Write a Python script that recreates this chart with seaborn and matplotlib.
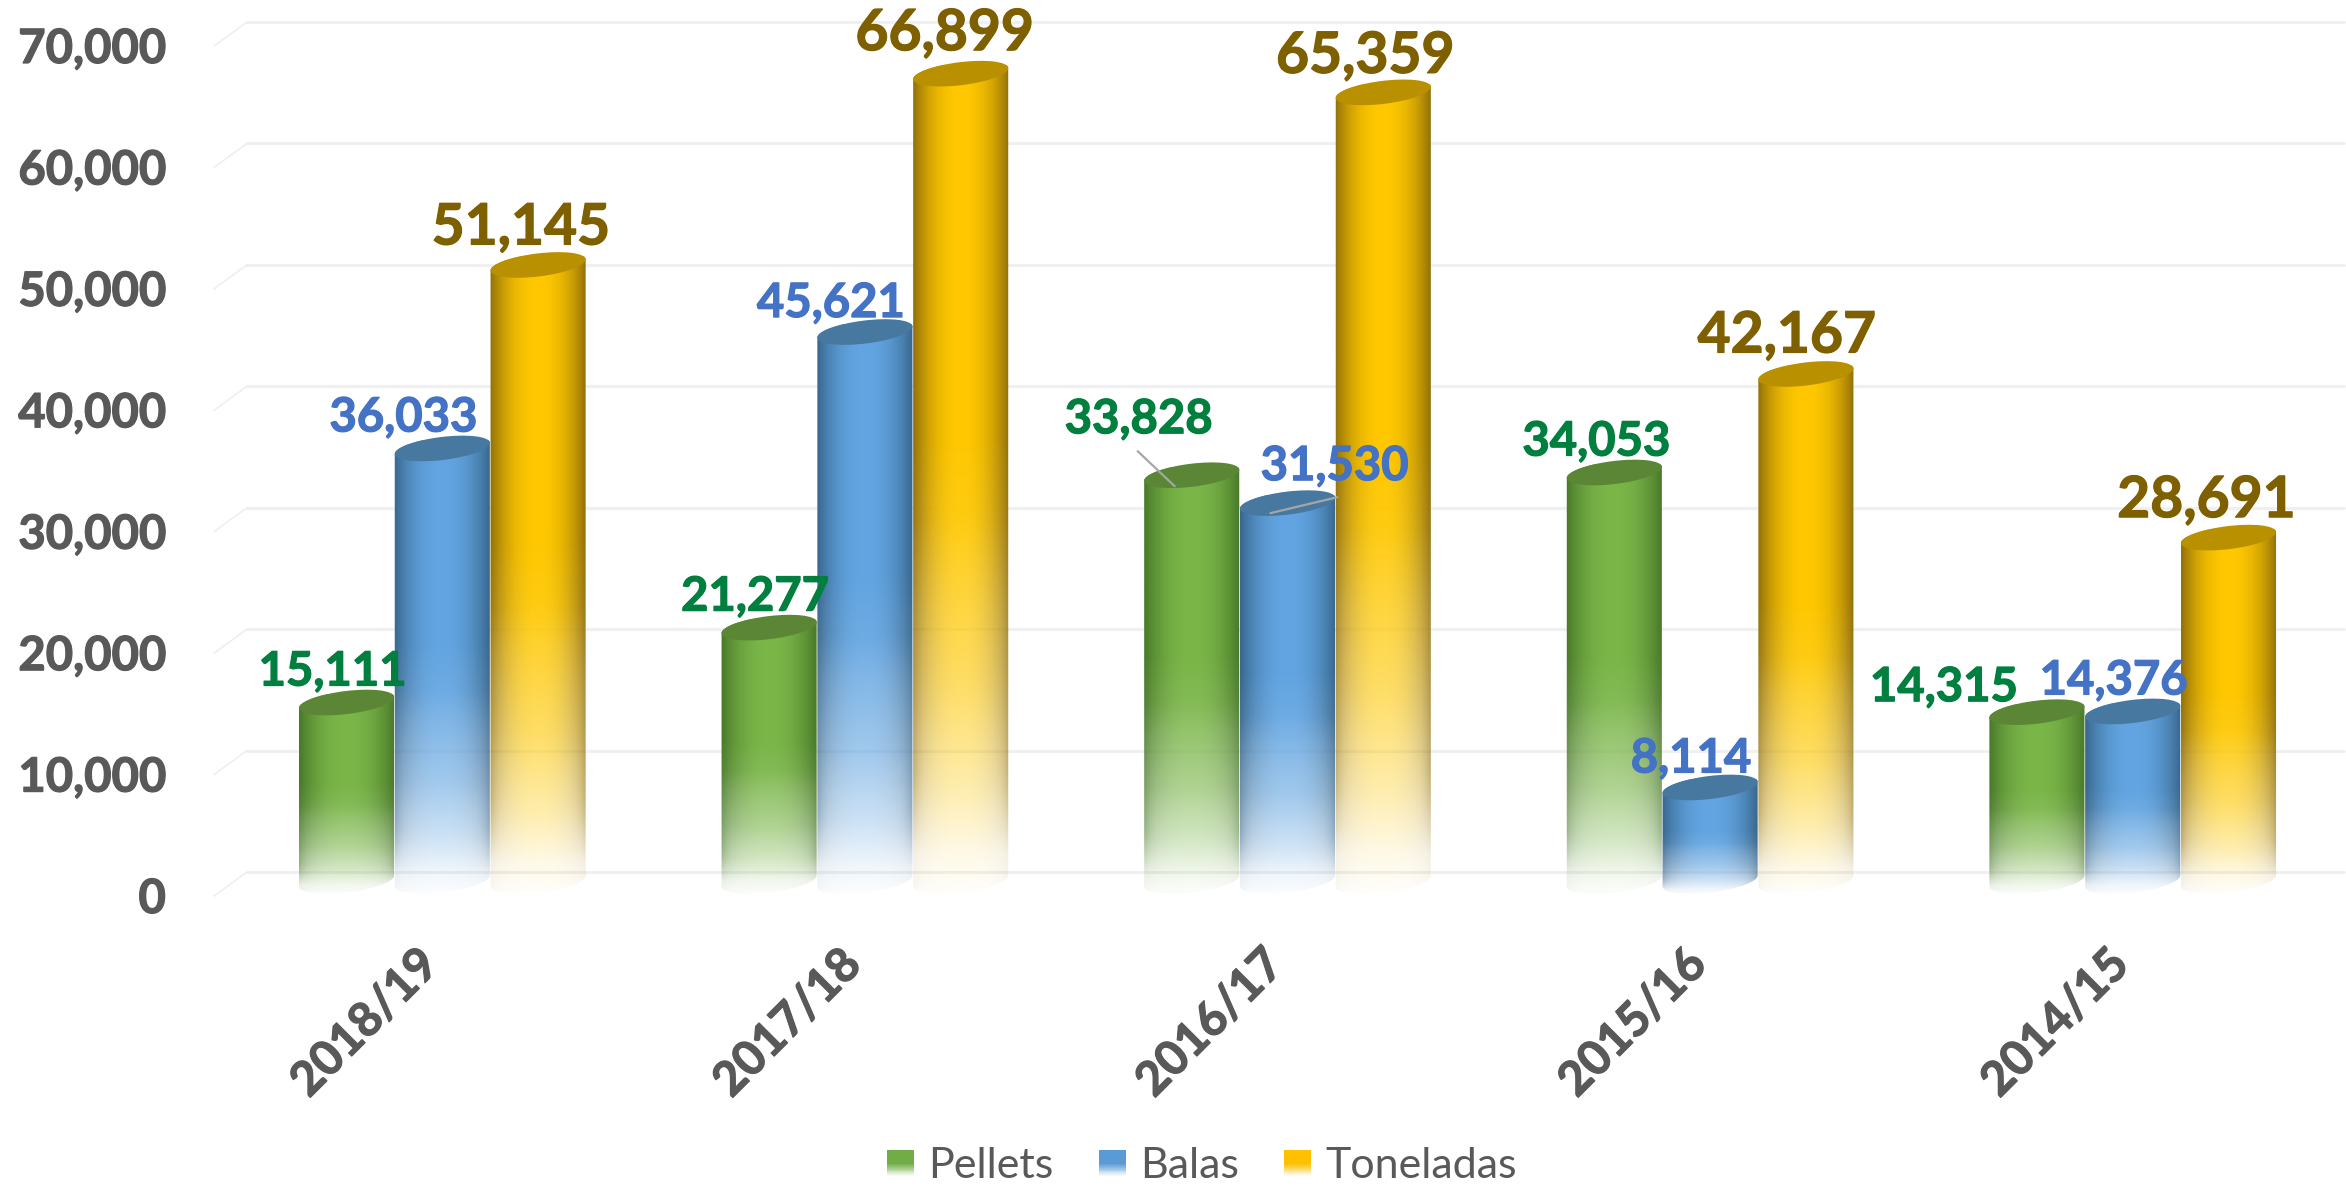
import numpy as np
import pandas as pd
import seaborn as sns
import matplotlib.pyplot as plt
import matplotlib.patheffects as pe
from matplotlib.colors import to_rgb
from matplotlib.legend_handler import HandlerBase
from matplotlib.patches import Ellipse, Rectangle
from matplotlib.path import Path
from matplotlib.transforms import IdentityTransform, ScaledTranslation, blended_transform_factory

# Data
categories = ["2018/19", "2017/18", "2016/17", "2015/16", "2014/15"]
pellets = [15111, 21277, 33828, 34053, 14315]
balas = [36033, 45621, 31530, 8114, 14376]
toneladas = [51145, 66899, 65359, 42167, 28691]
y_ticks = [0, 10000, 20000, 30000, 40000, 50000, 60000, 70000]
series_names = ["Pellets", "Balas", "Toneladas"]

# Colours: (centre of cylinder, edge of cylinder, top cap, label)
styles = {
    "Pellets": ("#7ab648", "#4a7a2a", "#5a8636", "#007f3f"),
    "Balas": ("#62a5e2", "#39688f", "#47789f", "#4472c4"),
    "Toneladas": ("#ffc800", "#94720a", "#b89000", "#7f6000"),
}

# Label offsets from the top of each bar, in pixels of the full picture (x, y up)
label_offsets = {
    "Pellets": [(-14, 31), (-14, 31), (-53, 56), (-18, 31), (-93, 25)],
    "Balas": [(-39, 31), (-34, 29), (47, 37), (-19, 29), (-19, 31)],
    "Toneladas": [(-17, 37), (-16, 40), (-18, 36), (-19, 38), (-22, 37)],
}
label_sizes = {"Pellets": 34, "Balas": 34, "Toneladas": 41}

# Leader lines: series, group, start and end relative to the bar top (pixels)
leaders = [
    ("Pellets", 2, (-54, 24), (-17, -11)),
    ("Balas", 2, (50, 6), (-17, -10)),
]

FIG_W, FIG_H = 2346, 1187
DPI = 100
AX_LEFT, AX_RIGHT = 231, 2344
AX_BASE, AX_TOP = 886, 36

sns.set_style("white")
plt.rcParams["font.family"] = ["Lato", "DejaVu Sans"]

df = pd.DataFrame({
    "year": categories * 3,
    "serie": sum([[n] * len(categories) for n in series_names], []),
    "value": pellets + balas + toneladas,
})

fig = plt.figure(figsize=(FIG_W / DPI, FIG_H / DPI), dpi=DPI)
ax = fig.add_axes([AX_LEFT / FIG_W, 1 - AX_BASE / FIG_H,
                   (AX_RIGHT - AX_LEFT) / FIG_W, (AX_BASE - AX_TOP) / FIG_H])
sns.barplot(data=df, x="year", y="value", hue="serie", order=categories,
            hue_order=series_names, width=0.68, gap=0, ax=ax, legend=False)
ax.set_xlim(-0.5, 4.5)
ax.set_ylim(0, 70000)
ax.set_xlabel("")
ax.set_ylabel("")
sns.despine(ax=ax, left=True, bottom=True)

px = 70000 / (AX_BASE - AX_TOP)  # value of one pixel


def heavier(col, lw=0.9):
    # the reference text is bolder than Lato Bold
    return [pe.withStroke(linewidth=lw, foreground=col)]


# Gridlines sit on the back wall, with a short slanted piece on the left
wall = blended_transform_factory(ax.transAxes, ax.transData)
wall_x = (247 - AX_LEFT) / (AX_RIGHT - AX_LEFT)
stub_x = (214 - AX_LEFT) / (AX_RIGHT - AX_LEFT)
for t in y_ticks:
    ax.plot([wall_x, 1.0], [t + 14 * px] * 2, color="#f0f0f0", lw=2.2,
            transform=wall, clip_on=False, zorder=1)
    ax.plot([stub_x, wall_x], [t - 10 * px, t + 14 * px], color="#efefef", lw=1.2,
            transform=wall, clip_on=False, zorder=1)

# Axis labels
ax.set_yticks(y_ticks)
ax.set_yticklabels([f"{t:,}" for t in y_ticks], fontsize=34, fontweight="bold", color="#595959",
                   path_effects=heavier("#595959"))
ax.tick_params(axis="y", length=0, pad=47)
ax.tick_params(axis="x", length=0, pad=40)
ax.set_xticks(range(len(categories)))
ax.set_xticklabels(categories, fontsize=34, fontweight="bold", color="#595959",
                   rotation=45, ha="right", va="top", rotation_mode="anchor",
                   path_effects=heavier("#595959"))
y_shift = ScaledTranslation(0, -9 / DPI, fig.dpi_scale_trans)
for lab in ax.get_yticklabels():
    lab.set_transform(lab.get_transform() + y_shift)
x_shift = ScaledTranslation(-27 / DPI, 0, fig.dpi_scale_trans)
for lab in ax.get_xticklabels():
    lab.set_transform(lab.get_transform() + x_shift)


def fade_alpha(t):
    # opacity from the top of the bar (0) to its base (1)
    return np.interp(t, [0, 0.45, 0.55, 0.62, 0.75, 0.87, 0.95, 1.0],
                     [1, 1, 0.93, 0.8, 0.6, 0.33, 0.1, 0.02])


def cylinder_image(centre, edge):
    u = np.abs(np.linspace(-1, 1, 64)) ** 2.2
    t = np.linspace(0, 1, 300)
    img = np.zeros((300, 64, 4))
    for c in range(3):
        img[:, :, c] = to_rgb(centre)[c] * (1 - u) + to_rgb(edge)[c] * u
    a = fade_alpha(t)[:, None]
    # the dark rim stays visible a bit longer than the body, then goes too
    rim = np.interp(t, [0, 0.85, 0.95], [0.3, 0.3, 0.03])[:, None]
    img[:, :, 3] = a + (1 - a) * u[None, :] ** 3 * rim
    return img


TILT = np.deg2rad(7)
CAP_H = 23


def arc(cx, cy, w, a0, a1):
    a = np.linspace(a0, a1, 40)
    x = w / 2 * np.cos(a)
    y = CAP_H / 2 * np.sin(a)
    return np.c_[cx + x * np.cos(TILT) - y * np.sin(TILT),
                 cy + x * np.sin(TILT) + y * np.cos(TILT)]


# Swap the flat bars for shaded cylinders
for z, (name, container) in enumerate(zip(series_names, ax.containers)):
    centre, edge, cap, label_col = styles[name]
    img = cylinder_image(centre, edge)
    for g, bar in enumerate(container):
        bar.set_visible(False)
        x0, x1 = bar.get_x(), bar.get_x() + bar.get_width()
        h = bar.get_height()
        im = ax.imshow(img, extent=(x0, x1, -9 * px, h + 8 * px), origin="upper",
                       aspect="auto", interpolation="bilinear", zorder=3 + z)
        # outline: upper arc of the top cap and lower arc of the base
        (cx, top), (cx1, base) = ax.transData.transform([((x0 + x1) / 2, h), ((x0 + x1) / 2, 0)])
        w = ax.transData.transform((x1, 0))[0] - ax.transData.transform((x0, 0))[0]
        outline = np.r_[arc(cx, top, w, 0, np.pi), arc(cx, base + 5, w, np.pi, 2 * np.pi)]
        im.set_clip_box(fig.bbox)
        im.set_clip_path(Path(np.r_[outline, outline[:1]], closed=True), IdentityTransform())
        ax.add_patch(Ellipse((cx, top), w, CAP_H, angle=7, facecolor=cap, edgecolor="none",
                             transform=IdentityTransform(), clip_on=False, zorder=3 + z))
        dx, dy = label_offsets[name][g]
        ax.annotate(f"{h:,.0f}", xy=((x0 + x1) / 2, h), xytext=(dx, dy),
                    textcoords="offset pixels", ha="center", va="center",
                    fontsize=label_sizes[name], fontweight="bold", color=label_col,
                    path_effects=heavier(label_col), zorder=10, annotation_clip=False)

# Leader lines for the two labels that were moved
for name, g, start, end in leaders:
    bar = ax.containers[series_names.index(name)][g]
    cx, top = ax.transData.transform((bar.get_x() + bar.get_width() / 2, bar.get_height()))
    ax.plot([cx + start[0], cx + end[0]], [top + start[1], top + end[1]], color="#a6a6a6",
            lw=1.6, transform=IdentityTransform(), clip_on=False, zorder=9)


class FadeSwatch(HandlerBase):
    def create_artists(self, legend, orig, xd, yd, width, height, fontsize, trans):
        parts = []
        n = 30
        colour = orig.get_facecolor()
        for i in range(n):
            a = np.interp(i / (n - 1), [0, 0.55, 1], [1, 1, 0.05])
            parts.append(Rectangle((-xd, -yd + height * (1 - (i + 1) / n)), width, height / n * 1.05,
                                   facecolor=colour[:3], alpha=a, edgecolor="none", transform=trans))
        return parts


handles = [Rectangle((0, 0), 1, 1, facecolor=c) for c in ("#70ad47", "#5b9bd5", "#ffc000")]
fig.legend(handles, series_names, handler_map={Rectangle: FadeSwatch()}, loc="center",
           bbox_to_anchor=(1202 / FIG_W, 1 - 1166 / FIG_H), ncol=3, frameon=False,
           fontsize=31, labelcolor="#595959", handlelength=0.63, handleheight=0.55,
           handletextpad=0.33, columnspacing=1.05)

fig.savefig("out.png", dpi=DPI)
